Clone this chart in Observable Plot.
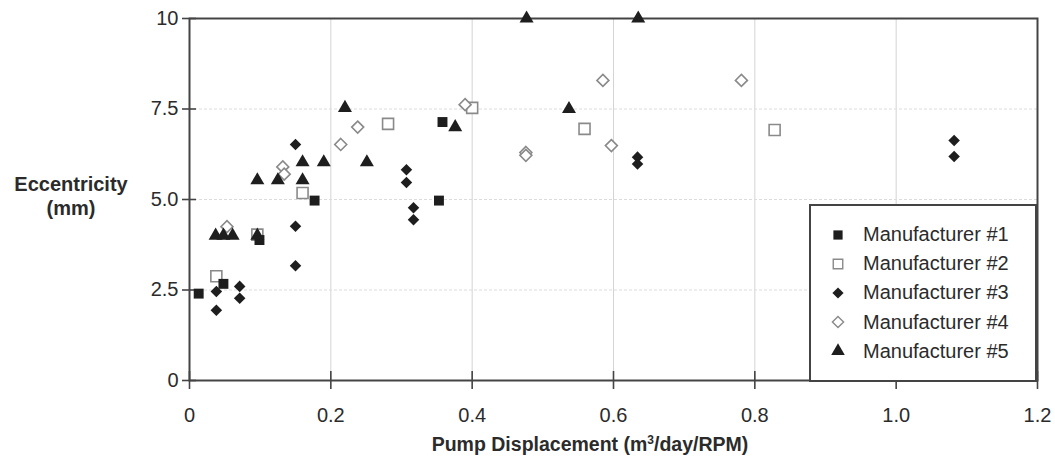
<!DOCTYPE html>
<html>
<head>
<meta charset="utf-8">
<script src="https://cdn.jsdelivr.net/npm/d3@7"></script>
<script src="https://cdn.jsdelivr.net/npm/@observablehq/plot@0.6"></script>
<style>
  html, body { margin: 0; padding: 0; background: #fff; }
  #wrap { position: relative; width: 1055px; height: 457px; font-family: "Liberation Sans", Arial, sans-serif; color: #2b2b2b; }
  #ytitle { position: absolute; left: 0; width: 142px; top: 172px; text-align: center; font-weight: bold; font-size: 20px; line-height: 24px; }
  #xtitle { position: absolute; left: 390px; width: 400px; top: 429px; text-align: center; font-weight: bold; font-size: 19.5px; line-height: 22px; white-space: nowrap; }
  #xtitle sup { font-size: 12px; vertical-align: 7px; font-weight: bold; }
  #legend { position: absolute; left: 809px; top: 204px; width: 224px; height: 174px; background: #fff; border: 2px solid #444; }
  #legend .row { position: absolute; left: 0; height: 29px; display: flex; align-items: center; }
  #legend .row svg { width: 20px; height: 20px; margin-left: 17px; }
  #legend .row span { margin-left: 15px; font-size: 20px; white-space: nowrap; }
</style>
</head>
<body>
<div id="wrap">
  <div id="chart"></div>
  <div id="ytitle">Eccentricity<br>(mm)</div>
  <div id="xtitle">Pump Displacement (m<sup>3</sup>/day/RPM)</div>
  <div id="legend"></div>
</div>
<script>
// ---- Data ----
const seriesNames = ["Manufacturer #1", "Manufacturer #2", "Manufacturer #3", "Manufacturer #4", "Manufacturer #5"];

const m1x = [0.013, 0.048, 0.099, 0.177, 0.353, 0.358];
const m1y = [2.40, 2.67, 3.88, 4.97, 4.97, 7.14];

const m2x = [0.038, 0.096, 0.160, 0.281, 0.400, 0.559, 0.828];
const m2y = [2.88, 4.03, 5.18, 7.09, 7.53, 6.95, 6.92];

const m3x = [0.038, 0.038, 0.071, 0.071, 0.150, 0.150, 0.150, 0.307, 0.307, 0.317, 0.317, 0.634, 0.634, 1.082, 1.082];
const m3y = [2.46, 1.94, 2.60, 2.27, 3.17, 4.26, 6.52, 5.82, 5.47, 4.77, 4.44, 6.17, 5.98, 6.63, 6.19];

const m4x = [0.053, 0.132, 0.134, 0.214, 0.238, 0.390, 0.476, 0.476, 0.585, 0.597, 0.781];
const m4y = [4.25, 5.90, 5.70, 6.52, 7.00, 7.62, 6.30, 6.22, 8.29, 6.49, 8.29];

const m5x = [0.037, 0.048, 0.061, 0.096, 0.096, 0.125, 0.160, 0.160, 0.190, 0.220, 0.251, 0.376, 0.477, 0.537, 0.635];
const m5y = [4.00, 4.00, 4.00, 4.00, 5.53, 5.53, 5.53, 6.03, 6.03, 7.53, 6.03, 7.00, 10.0, 7.50, 10.0];

const xTicks = [0, 0.2, 0.4, 0.6, 0.8, 1.0, 1.2];
const xTickLabels = ["0", "0.2", "0.4", "0.6", "0.8", "1.0", "1.2"];
const yTicks = [0, 2.5, 5, 7.5, 10];
const yTickLabels = ["0", "2.5", "5.0", "7.5", "10"];

// ---- Build tables ----
const zip = (xs, ys) => xs.map((x, i) => ({x, y: ys[i]}));
const d1 = zip(m1x, m1y), d2 = zip(m2x, m2y), d3s = zip(m3x, m3y), d4 = zip(m4x, m4y), d5 = zip(m5x, m5y);

const xfmt = v => xTickLabels[xTicks.indexOf(v)];
const yfmt = v => yTickLabels[yTicks.indexOf(v)];

const dark = "#1e1e1e";
const grayStroke = "#8a8a8a";

const chart = Plot.plot({
  width: 1055,
  height: 457,
  marginLeft: 189,
  marginRight: 18,
  marginTop: 18,
  marginBottom: 77,
  style: { fontFamily: "'Liberation Sans', Arial, sans-serif", color: "#2b2b2b", background: "#fff" },
  x: { domain: [0, 1.2] },
  y: { domain: [0, 10] },
  marks: [
    Plot.gridX(xTicks.slice(1, -1), { stroke: "#d4d4d4", strokeOpacity: 1 }),
    Plot.gridY(yTicks.slice(1, -1), { stroke: "#dcdcdc", strokeOpacity: 1, strokeDasharray: "3,2" }),
    Plot.axisX(xTicks, { tickSize: 9, tickPadding: 18, tickFormat: xfmt, fontSize: 20, stroke: "#444", strokeWidth: 1.6, label: null }),
    Plot.axisX(xTicks, { tickSize: 9, dy: -9, tickFormat: () => "", stroke: "#444", strokeWidth: 1.6, label: null }),
    Plot.axisY(yTicks, { tickSize: 7, tickPadding: 4, tickFormat: yfmt, fontSize: 20, stroke: "#444", strokeWidth: 1.6, label: null }),
    Plot.axisY(yTicks, { tickSize: 7, dx: 7, tickFormat: () => "", stroke: "#444", strokeWidth: 1.6, label: null }),
    Plot.frame({ stroke: "#444", strokeWidth: 2 }),
    Plot.dot(d2, { x: "x", y: "y", symbol: "square", r: 6.2, fill: "#fff", stroke: grayStroke, strokeWidth: 1.6 }),
    Plot.dot(d4, { x: "x", y: "y", symbol: "diamond2", r: 5.4, fill: "#fff", stroke: grayStroke, strokeWidth: 1.6 }),
    Plot.dot(d1, { x: "x", y: "y", symbol: "square", r: 5.6, fill: dark, stroke: null }),
    Plot.dot(d3s, { x: "x", y: "y", symbol: "diamond2", r: 5.2, fill: dark, stroke: null }),
    Plot.dot(d5, { x: "x", y: "y", symbol: "triangle", r: 5.2, fill: dark, stroke: null })
  ]
});
document.getElementById("chart").appendChild(chart);

// ---- Legend ----
const legendSyms = [
  { sym: d3.symbolSquare, size: 85, fill: dark, stroke: "none" },
  { sym: d3.symbolSquare, size: 90, fill: "#fff", stroke: grayStroke },
  { sym: d3.symbolDiamond2, size: 80, fill: dark, stroke: "none" },
  { sym: d3.symbolDiamond2, size: 80, fill: "#fff", stroke: grayStroke },
  { sym: d3.symbolTriangle, size: 80, fill: dark, stroke: "none" }
];
const legend = d3.select("#legend");
seriesNames.forEach((name, i) => {
  const row = legend.append("div").attr("class", "row").style("top", (14 + i * 29.2) + "px");
  const s = row.append("svg").attr("viewBox", "-10 -10 20 20");
  s.append("path")
    .attr("d", d3.symbol(legendSyms[i].sym, legendSyms[i].size)())
    .attr("fill", legendSyms[i].fill)
    .attr("stroke", legendSyms[i].stroke)
    .attr("stroke-width", 1.4);
  row.append("span").text(name);
});
</script>
</body>
</html>
